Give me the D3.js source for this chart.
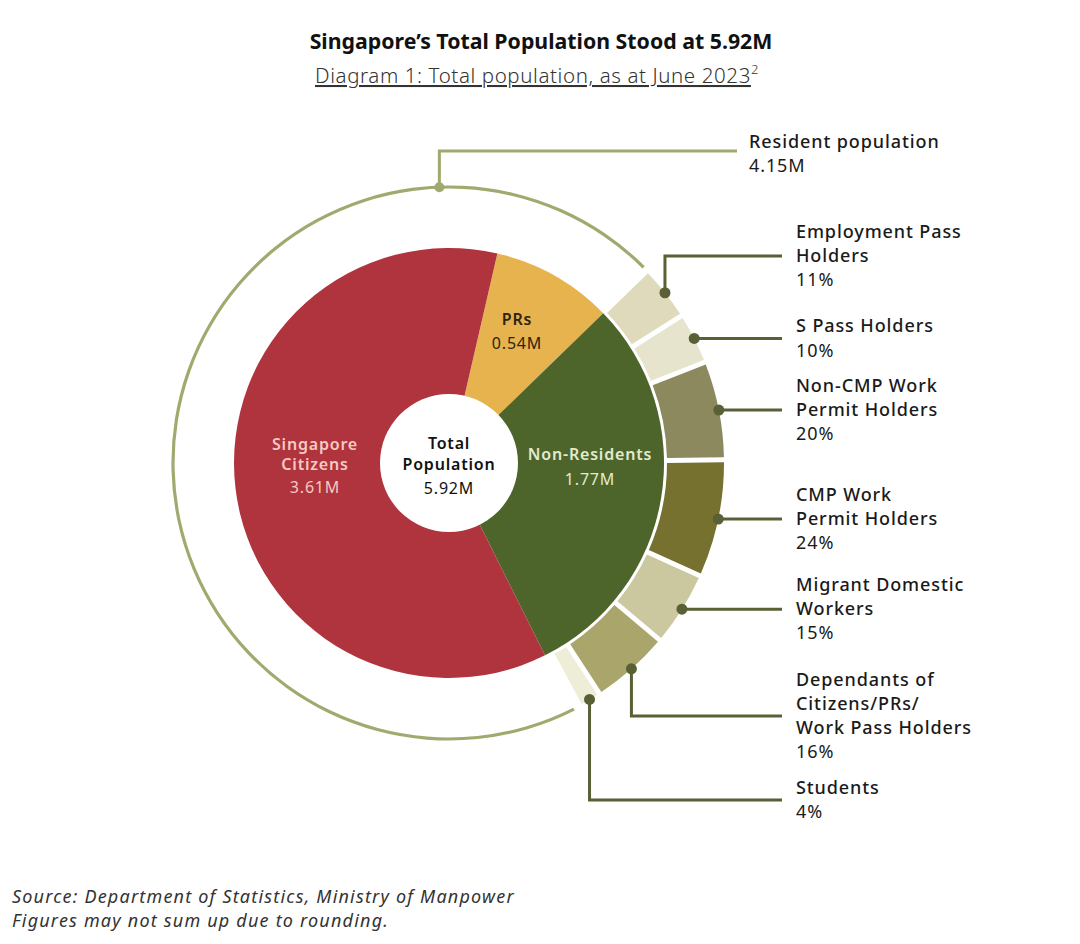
<!DOCTYPE html>
<html>
<head>
<meta charset="utf-8">
<script src="https://cdn.jsdelivr.net/npm/d3@7"></script>
<style>
  html, body { margin: 0; padding: 0; background: #ffffff; }
  svg { display: block; font-family: "Noto Sans", "Open Sans", sans-serif; }
</style>
</head>
<body>
<svg id="chart" width="1080" height="944"></svg>
<script>
// ---------- DATA ----------
const mainCategories = ["PRs", "Non-Residents", "Singapore Citizens"];
const mainValues = [0.54, 1.77, 3.61];           // millions
const mainValueLabels = ["0.54M", "1.77M", "3.61M"];

const totalLabel = "5.92M";
const residentLabel = "4.15M";

const nonResCategories = [
  "Employment Pass Holders",
  "S Pass Holders",
  "Non-CMP Work Permit Holders",
  "CMP Work Permit Holders",
  "Migrant Domestic Workers",
  "Dependants of Citizens/PRs/Work Pass Holders",
  "Students"
];
const nonResShares = [11, 10, 20, 24, 15, 16, 4];   // percent
const nonResLabelLines = [
  ["Employment Pass", "Holders"],
  ["S Pass Holders"],
  ["Non-CMP Work", "Permit Holders"],
  ["CMP Work", "Permit Holders"],
  ["Migrant Domestic", "Workers"],
  ["Dependants of", "Citizens/PRs/", "Work Pass Holders"],
  ["Students"]
];

// ---------- LAYOUT / STYLE ----------
const cx = 449, cy = 463;
const deg = Math.PI / 180;
const pieR = 215, holeR = 69;
const ringIn = 218, ringOut = 275;
const residentR = 276;
const mainColors = ["#E7B34F", "#4D652A", "#B0343D"];
const ringColors = ["#DFDABB", "#E7E4CE", "#8B895D", "#76712F", "#CBC79F", "#AAA56B", "#EEEDD7"];
const leaderColor = "#5A6035";
const residentColor = "#A0AA6E";
const labelX = 796, lineEndX = 782;
const labelFont = 18, labelSpacing = 0.9;
// elbow leaders: index -> y of horizontal segment
const elbowY = {0: 256, 5: 716, 6: 800};

const svg = d3.select("#chart");

// Title
svg.append("text")
  .attr("x", 541).attr("y", 49)
  .attr("text-anchor", "middle")
  .attr("font-size", 21.3).attr("font-weight", 700).attr("fill", "#111")
  .text("Singapore\u2019s Total Population Stood at 5.92M");

const sub = svg.append("text")
  .attr("x", 537).attr("y", 83)
  .attr("text-anchor", "middle")
  .attr("font-size", 20.5).attr("font-weight", 300).attr("fill", "#333")
  .attr("letter-spacing", 0.6);
sub.append("tspan").attr("text-decoration", "underline").text("Diagram 1: Total population, as at June 2023");
sub.append("tspan").attr("font-size", 13).attr("dy", -9).text("2");

const g = svg.append("g").attr("transform", `translate(${cx},${cy})`);

// Main pie
const pie = d3.pie().sort(null).value(d => d)
  .startAngle(13 * deg).endAngle(13 * deg + 2 * Math.PI);
const mainArcs = pie(mainValues);
const arcMain = d3.arc().innerRadius(0).outerRadius(pieR);

g.selectAll("path.main").data(mainArcs).enter().append("path")
  .attr("class", "main")
  .attr("d", arcMain)
  .attr("fill", (d, i) => mainColors[i]);

// Centre hole
g.append("circle").attr("r", holeR).attr("fill", "#fff");

// Non-resident ring
const nr = mainArcs[1];
const ringPie = d3.pie().sort(null).value(d => d)
  .startAngle(nr.startAngle).endAngle(nr.endAngle - 1.8 * deg).padAngle(0.014);
const ringArcs = ringPie(nonResShares);
const arcRing = d3.arc().innerRadius(ringIn).outerRadius(ringOut);
g.selectAll("path.ring").data(ringArcs).enter().append("path")
  .attr("class", "ring")
  .attr("d", arcRing)
  .attr("fill", (d, i) => ringColors[i]);

// Resident arc (thin)
const resArc = d3.arc().innerRadius(residentR - 1.6).outerRadius(residentR + 1.6)
  .startAngle(nr.endAngle - 0.4 * deg).endAngle(nr.startAngle + 2 * Math.PI - 1.0 * deg);
g.append("path").attr("d", resArc()).attr("fill", residentColor);

// Resident leader
const resA = -2 * deg;
const rdx = cx + residentR * Math.sin(resA), rdy = cy - residentR * Math.cos(resA);
svg.append("path")
  .attr("d", `M${rdx},${rdy} V151 H737`)
  .attr("fill", "none").attr("stroke", residentColor).attr("stroke-width", 3);
svg.append("circle").attr("cx", rdx).attr("cy", rdy).attr("r", 5).attr("fill", residentColor);
const resText = svg.append("text").attr("x", 749).attr("y", 148)
  .attr("font-size", labelFont).attr("letter-spacing", labelSpacing)
  .attr("font-weight", 500).attr("fill", "#1a1a1a");
resText.append("tspan").attr("x", 749).text("Resident population");
resText.append("tspan").attr("x", 749).attr("dy", 24).attr("font-weight", 400).text(residentLabel);

// Ring leaders and labels
ringArcs.forEach((a, i) => {
  const mid = (a.startAngle + a.endAngle) / 2;
  const px = cx + ringOut * Math.sin(mid), py = cy - ringOut * Math.cos(mid);
  const ly = (i in elbowY) ? elbowY[i] : py;
  const dPath = (i in elbowY) ? `M${px},${py} V${ly} H${lineEndX}` : `M${px},${py} H${lineEndX}`;
  svg.append("path").attr("d", dPath).attr("fill", "none")
    .attr("stroke", leaderColor).attr("stroke-width", 3);
  svg.append("circle").attr("cx", px).attr("cy", py).attr("r", 5.5).attr("fill", leaderColor);

  const lines = nonResLabelLines[i].concat([nonResShares[i] + "%"]);
  const n = lines.length;
  const t = svg.append("text").attr("font-size", labelFont)
    .attr("letter-spacing", labelSpacing).attr("fill", "#1a1a1a");
  lines.forEach((s, j) => {
    t.append("tspan")
      .attr("x", labelX)
      .attr("y", ly + (j - (n - 1) / 2) * 24.3 + 6)
      .attr("font-weight", j === n - 1 ? 400 : 500)
      .text(s);
  });
});

// Pie labels
function block(x, y, lines, color) {
  const t = svg.append("text").attr("text-anchor", "middle").attr("font-size", 16)
    .attr("letter-spacing", 0.8).attr("fill", color);
  lines.forEach((l, j) => {
    t.append("tspan").attr("x", x).attr("y", y + l.dy)
      .attr("font-weight", l.w).text(l.s);
  });
}
block(517, 325, [{s: mainCategories[0], dy: 0, w: 600}, {s: mainValueLabels[0], dy: 24, w: 400}], "#2b2410");
block(315, 450, [{s: "Singapore", dy: 0, w: 600}, {s: "Citizens", dy: 20, w: 600}, {s: mainValueLabels[2], dy: 43, w: 400}], "#F6C9C2");
block(449, 449, [{s: "Total", dy: 0, w: 600}, {s: "Population", dy: 21, w: 600}, {s: totalLabel, dy: 45, w: 400}], "#111");
block(590, 460, [{s: mainCategories[1], dy: 0, w: 600}, {s: mainValueLabels[1], dy: 25, w: 400}], "#E2EBCF");

// Source
const src = svg.append("text").attr("font-size", 18).attr("font-style", "italic")
  .attr("letter-spacing", 1.2).attr("fill", "#333");
src.append("tspan").attr("x", 12).attr("y", 903).text("Source: Department of Statistics, Ministry of Manpower");
src.append("tspan").attr("x", 12).attr("y", 927).text("Figures may not sum up due to rounding.");
</script>
</body>
</html>
